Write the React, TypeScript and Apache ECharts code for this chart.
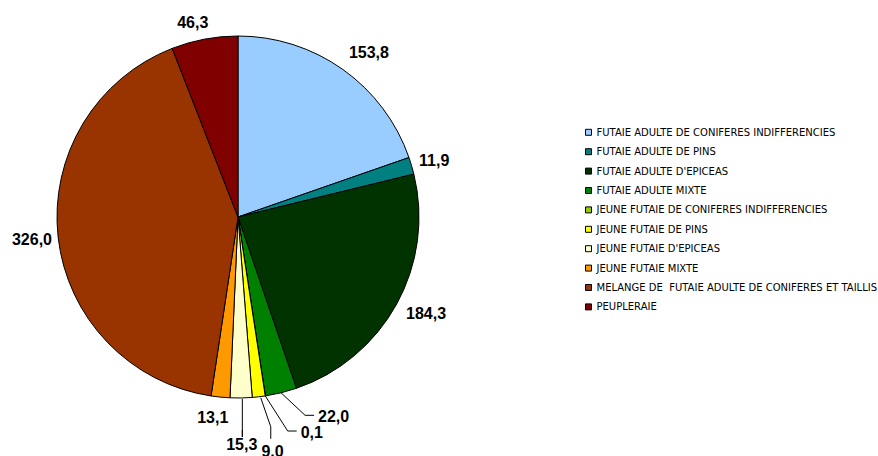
import React, { useEffect, useRef } from "react";
import * as echarts from "echarts";

const categories = [
  "FUTAIE ADULTE DE CONIFERES INDIFFERENCIES",
  "FUTAIE ADULTE DE PINS",
  "FUTAIE ADULTE D'EPICEAS",
  "FUTAIE ADULTE MIXTE",
  "JEUNE FUTAIE DE CONIFERES INDIFFERENCIES",
  "JEUNE FUTAIE DE PINS",
  "JEUNE FUTAIE D'EPICEAS",
  "JEUNE FUTAIE MIXTE",
  "MELANGE DE  FUTAIE ADULTE DE CONIFERES ET TAILLIS",
  "PEUPLERAIE",
];
const values = [153.8, 11.9, 184.3, 22.0, 0.1, 9.0, 15.3, 13.1, 326.0, 46.3];
const colors = [
  "#99CCFF",
  "#008080",
  "#003300",
  "#008000",
  "#99CC00",
  "#FFFF00",
  "#FFFFCC",
  "#FF9900",
  "#993300",
  "#800000",
];

// label placement relative to the slice's outer edge point (style, not data)
type Place = { dx: number; dy: number; align: "left" | "right" | "center"; line?: "h" | "v" | "s" };
const placements: Place[] = [
  { dx: 6, dy: -16.5, align: "left" },
  { dx: 7.5, dy: -4.8, align: "left" },
  { dx: 9.3, dy: 9, align: "left" },
  { dx: 37, dy: 24, align: "left", line: "h" },
  { dx: 35.4, dy: 36.6, align: "left", line: "h" },
  { dx: 13.8, dy: 55, align: "center", line: "v" },
  { dx: 0.6, dy: 47, align: "center", line: "s" },
  { dx: 7.8, dy: 20, align: "right" },
  { dx: -6.1, dy: 2.4, align: "right" },
  { dx: 3.8, dy: -16.6, align: "right" },
];

const CX = 238;
const CY = 217;
const R = 181;

function fmt(v: number) {
  return v.toFixed(1).replace(".", ",");
}

function anchor(i: number): [number, number] {
  const total = values.reduce((a, b) => a + b, 0);
  let cum = 0;
  for (let k = 0; k < i; k++) cum += values[k];
  const mid = ((cum + values[i] / 2) / total) * Math.PI * 2;
  return [CX + R * Math.sin(mid), CY - R * Math.cos(mid)];
}

export default function App() {
  const ref = useRef<HTMLDivElement>(null);
  useEffect(() => {
    if (!ref.current) return;
    const chart = echarts.init(ref.current, undefined, { renderer: "svg" });
    const data = values.map((v, i) => ({
      name: categories[i],
      value: v,
      itemStyle: { color: colors[i] },
      labelLine: { show: !!placements[i].line },
    }));
    chart.setOption({
      animation: false,
      backgroundColor: "#ffffff",
      legend: {
        orient: "vertical",
        left: 585,
        top: 126.3,
        padding: 0,
        itemWidth: 6,
        itemHeight: 6,
        itemGap: 7.4,
        itemTextGap: 5,
        icon: "rect",
        data: categories,
        textStyle: {
          fontFamily: "DejaVu Sans, sans-serif",
          fontSize: 10,
          lineHeight: 12,
          color: "#000",
        },
        itemStyle: { borderColor: "#000", borderWidth: 1 },
      },
      series: [
        {
          type: "pie",
          center: [CX, CY],
          radius: R,
          startAngle: 90,
          clockwise: true,
          avoidLabelOverlap: false,
          data,
          itemStyle: { borderColor: "#000", borderWidth: 1 },
          emphasis: { disabled: true },
          label: {
            show: true,
            position: "outside",
            formatter: (p: any) => fmt(p.value),
            fontFamily: "Liberation Sans, Arial, sans-serif",
            fontWeight: "bold",
            fontSize: 16,
            color: "#000",
          },
          labelLine: {
            show: false,
            length: 10,
            length2: 10,
            lineStyle: { color: "#000", width: 1 },
          },
          labelLayout: (params: any) => {
            const i = params.dataIndex;
            const p = placements[i];
            const [ax, ay] = anchor(i);
            const lx = ax + p.dx;
            const ly = ay + p.dy;
            const res: any = { x: lx, y: ly, align: p.align, verticalAlign: "middle" };
            if (p.line === "h") {
              res.labelLinePoints = [
                [ax, ay],
                [lx - 13, ly - 1.5],
                [lx - 4, ly - 1.5],
              ];
            } else if (p.line === "v") {
              res.labelLinePoints = [
                [ax + 2, ay + 1],
                [lx - 1.8, ly - 25],
                [lx - 1.8, ly - 13],
              ];
            } else if (p.line === "s") {
              res.labelLinePoints = [
                [lx + 0.6, ay + 1],
                [lx + 0.6, ly - 8],
                [lx + 0.6, ly - 15],
              ];
            }
            return res;
          },
        },
      ],
    });
    return () => chart.dispose();
  }, []);
  return (
    <div
      ref={ref}
      style={{ position: "absolute", left: 0, top: 0, width: 878, height: 456 }}
    />
  );
}
